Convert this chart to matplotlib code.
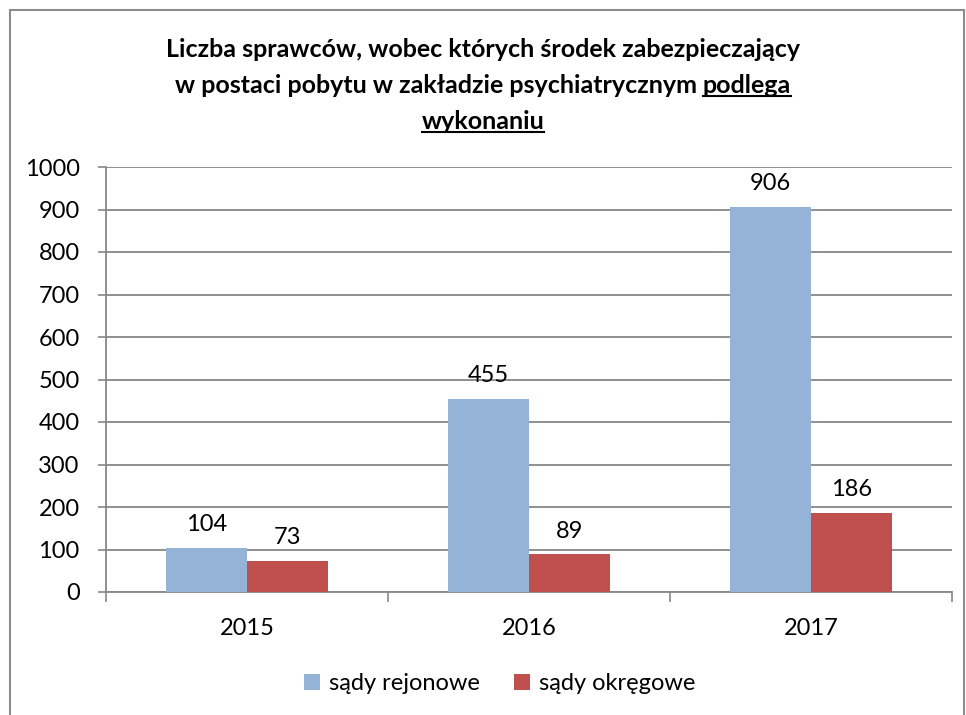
import matplotlib
matplotlib.use("Agg")
import matplotlib.pyplot as plt
from matplotlib.patches import Rectangle
from matplotlib.lines import Line2D
import numpy as np

years = ["2015", "2016", "2017"]
rejonowe = [104, 455, 906]
okregowe = [73, 89, 186]
series_names = ["sądy rejonowe", "sądy okręgowe"]
yticks = [0, 100, 200, 300, 400, 500, 600, 700, 800, 900, 1000]
title1 = "Liczba sprawców, wobec których środek zabezpieczający"
title2a = "w postaci pobytu w zakładzie psychiatrycznym "
title2b = "podlega"
title3 = "wykonaniu"

BLUE = "#95B3D7"
RED = "#C0504D"
GRID = "#878787"
FONT = "Lato"
FS = 17

plt.rcParams['font.family'] = [FONT, 'DejaVu Sans']

W, H = 966, 715
fig = plt.figure(figsize=(W / 100, H / 100), dpi=100)
fig.patch.set_facecolor("white")

# outer border
fig.patches.append(Rectangle((10 / W, -0.05), (964 - 10) / W, 1.05 - 10 / H,
                             transform=fig.transFigure, fill=False,
                             edgecolor="#8c8c8c", linewidth=1.5))

L, R, T, B = 106, 952, 167, 592
ax = fig.add_axes([L / W, 1 - B / H, (R - L) / W, (B - T) / H])

x = np.arange(len(years))
bw = 0.287
b1 = ax.bar(x - bw / 2, rejonowe, bw, color=BLUE, label=series_names[0], zorder=3)
b2 = ax.bar(x + bw / 2, okregowe, bw, color=RED, label=series_names[1], zorder=3)

ax.set_xlim(-0.5, len(years) - 0.5)
ax.set_ylim(0, 1000)
ax.set_yticks(yticks)
ax.set_yticklabels([str(v) for v in yticks], fontsize=FS)
ax.set_xticks(x)
ax.set_xticklabels(years, fontsize=FS)
ax.tick_params(axis='x', length=0, pad=19)
ax.tick_params(axis='y', length=6, width=1.2, color=GRID, pad=13)
ax.set_xticks(np.arange(-0.5, len(years)), minor=True)
ax.tick_params(axis='x', which='minor', length=7, width=1.2, color=GRID)

ax.grid(axis='y', color=GRID, linewidth=1.3, zorder=0)
for s in ["top", "right"]:
    ax.spines[s].set_visible(False)
for s in ["left", "bottom"]:
    ax.spines[s].set_color(GRID)
    ax.spines[s].set_linewidth(1.3)

for bars, vals in ((b1, rejonowe), (b2, okregowe)):
    for rect, v in zip(bars, vals):
        ax.annotate(str(v), (rect.get_x() + rect.get_width() / 2, v),
                    xytext=(0, 9), textcoords="offset points",
                    ha="center", va="bottom", fontsize=FS, color="black")

# title
tsize = 18
y1, y2, y3 = H - 57, H - 93, H - 129
fig.text(0.5, y1 / H, title1, ha="center", va="baseline",
         fontsize=tsize, fontweight="bold")
fig.canvas.draw()
r = fig.canvas.get_renderer()
ta = fig.text(0, 0, title2a, fontsize=tsize, fontweight="bold", va="baseline")
tb = fig.text(0, 0, title2b, fontsize=tsize, fontweight="bold", va="baseline")
wa = ta.get_window_extent(r).width
wb = tb.get_window_extent(r).width
total = wa + wb
x0 = (W - total) / 2
ta.set_position((x0 / W, y2 / H))
tb.set_position(((x0 + wa) / W, y2 / H))
ul = 2.5
fig.lines.append(Line2D([(x0 + wa) / W, (x0 + wa + wb) / W],
                        [(y2 - ul) / H, (y2 - ul) / H],
                        transform=fig.transFigure, color="black", linewidth=1.5))
t3 = fig.text(0.5, y3 / H, title3, ha="center", va="baseline",
              fontsize=tsize, fontweight="bold")
w3 = t3.get_window_extent(r).width
fig.lines.append(Line2D([(W - w3) / 2 / W, (W + w3) / 2 / W],
                        [(y3 - ul) / H, (y3 - ul) / H],
                        transform=fig.transFigure, color="black", linewidth=1.5))

leg = fig.legend(handles=[b1, b2], labels=series_names, loc="center",
                 bbox_to_anchor=(500 / W, 1 - 684 / H), ncol=2, frameon=False,
                 fontsize=FS, handlelength=0.65, handleheight=0.65,
                 handletextpad=0.4, columnspacing=1.45)

fig.savefig("out.png", dpi=100, facecolor="white")
